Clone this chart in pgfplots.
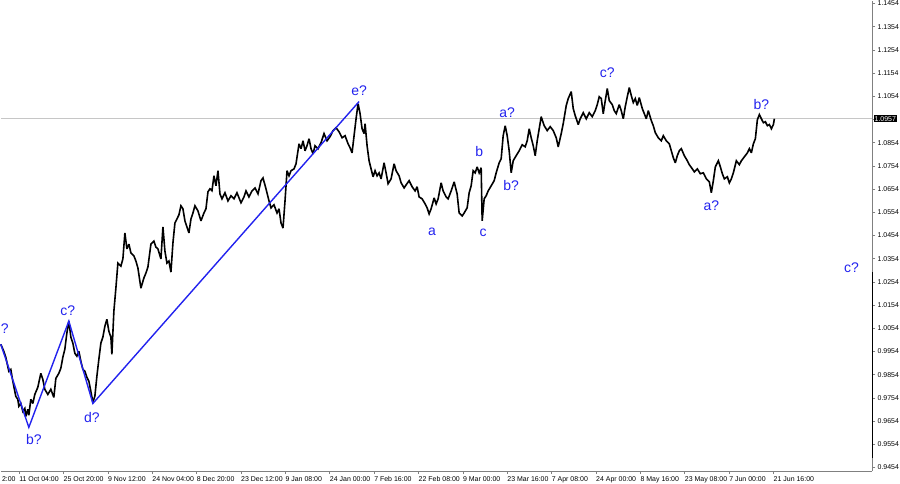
\documentclass[border=0pt]{standalone}
\usepackage{fontspec}
\setmainfont{Liberation Sans}
\usepackage{pgfplots}
\pgfplotsset{compat=1.18}
\definecolor{wave}{HTML}{2222EE}
\definecolor{axgray}{HTML}{808080}

\begin{document}
\begin{tikzpicture}
\begin{axis}[
  scale only axis, width=871bp, height=470bp,
  xmin=0, xmax=871, ymin=0.9439, ymax=1.1466,
  axis x line=bottom, axis y line=right,
  axis line style={-, axgray, line width=0.8bp},
  tick align=outside, major tick length=3bp,
  tick style={axgray, line width=0.6bp},
  xtick={18.3,62.6,107.0,151.3,195.7,240.0,284.3,328.7,373.0,417.4,461.7,506.0,550.4,594.7,639.1,683.4,727.7,772.1},
  xticklabels={11 Oct 04:00, 25 Oct 20:00, 9 Nov 12:00, 24 Nov 04:00, 8 Dec 20:00, 23 Dec 12:00, 9 Jan 08:00, 24 Jan 00:00, 7 Feb 16:00, 22 Feb 08:00, 9 Mar 00:00, 23 Mar 16:00, 7 Apr 08:00, 24 Apr 00:00, 8 May 16:00, 23 May 08:00, 7 Jun 00:00, 21 Jun 16:00},
  ytick={0.9454,0.9554,0.9654,0.9754,0.9854,0.9954,1.0054,1.0154,1.0254,1.0354,1.0454,1.0554,1.0654,1.0754,1.0854,1.0954,1.1054,1.1154,1.1254,1.1354,1.1454},
  yticklabels={0.9454,0.9554,0.9654,0.9754,0.9854,0.9954,1.0054,1.0154,1.0254,1.0354,1.0454,1.0554,1.0654,1.0754,1.0854,,1.1054,1.1154,1.1254,1.1354,1.1454},
  ticklabel style={font=\fontsize{7}{8}\selectfont, inner sep=1bp},
  xticklabel style={anchor=north west, xshift=-1bp, yshift=-1bp},
  yticklabel style={anchor=west, xshift=1bp},
  clip=false,
]
% current price line
\draw[gray!45, line width=0.8bp] (axis cs:0,1.0957) -- (axis cs:871,1.0957);
% darker segment of the price scale
\draw[black, line width=1.6bp] (axis cs:871,1.0295) -- (axis cs:871,0.9496);

% price
\addplot[black, line width=1.6bp, line join=miter, miter limit=3] coordinates {
(0,0.9985)(3,0.9955)(5,0.9929)(8,0.9869)(10,0.9877)(12,0.9826)(15,0.9761)(17,0.9748)
(18,0.9718)(20,0.9730)(22,0.9696)(24,0.9709)(25,0.9674)(27,0.9705)(28,0.9679)(30,0.9748)
(32,0.9730)(34,0.9769)(37,0.9800)(40,0.9860)(42,0.9834)(44,0.9791)(47,0.9769)(50,0.9791)
(53,0.9756)(55,0.9838)(58,0.9860)(60,0.9882)(62,0.9929)(64,0.9964)(66,1.0033)(68,1.0085)
(70,1.0016)(72,0.9990)(74,0.9946)(76,0.9934)(78,0.9955)(80,0.9912)(82,0.9877)(84,0.9869)
(86,0.9843)(88,0.9826)(90,0.9782)(92,0.9735)(94,0.9761)(96,0.9847)(98,0.9921)(100,0.9990)
(102,1.0016)(104,1.0063)(106,1.0093)(108,1.0041)(110,1.0016)(111,0.9942)(113,1.0128)(115,1.0227)
(117,1.0335)(120,1.0322)(122,1.0353)(124,1.0465)(126,1.0396)(128,1.0417)(130,1.0379)(133,1.0366)
(135,1.0344)(137,1.0314)(140,1.0227)(143,1.0271)(145,1.0292)(147,1.0318)(150,1.0417)(153,1.0430)
(155,1.0404)(157,1.0396)(160,1.0353)(162,1.0491)(164,1.0387)(166,1.0335)(168,1.0344)(170,1.0296)
(172,1.0422)(174,1.0508)(176,1.0525)(178,1.0543)(180,1.0582)(182,1.0569)(184,1.0517)(186,1.0491)
(188,1.0465)(190,1.0525)(192,1.0551)(194,1.0582)(197,1.0560)(200,1.0517)(203,1.0551)(205,1.0569)
(207,1.0642)(209,1.0655)(211,1.0647)(213,1.0711)(215,1.0668)(217,1.0733)(219,1.0633)(221,1.0612)
(224,1.0638)(227,1.0603)(230,1.0625)(233,1.0612)(236,1.0638)(240,1.0595)(243,1.0620)(245,1.0646)
(248,1.0620)(251,1.0646)(254,1.0659)(257,1.0633)(260,1.0690)(262,1.0702)(265,1.0655)(268,1.0603)
(270,1.0573)(273,1.0586)(276,1.0551)(278,1.0569)(280,1.0508)(282,1.0486)(284,1.0603)(286,1.0733)
(288,1.0711)(290,1.0733)(293,1.0741)(295,1.0763)(298,1.0849)(300,1.0828)(302,1.0862)(304,1.0819)
(306,1.0841)(308,1.0871)(310,1.0828)(312,1.0806)(314,1.0841)(317,1.0828)(320,1.0854)(323,1.0893)
(326,1.0862)(329,1.0880)(332,1.0906)(335,1.0918)(338,1.0901)(341,1.0875)(344,1.0884)(347,1.0849)
(349,1.0832)(351,1.0810)(353,1.0884)(355,1.0957)(357,1.1022)(359,1.0979)(361,1.0914)(363,1.0893)
(364,1.0936)(366,1.0841)(368,1.0776)(370,1.0741)(372,1.0707)(374,1.0733)(376,1.0711)(378,1.0724)
(380,1.0698)(383,1.0767)(385,1.0724)(387,1.0677)(390,1.0698)(393,1.0763)(395,1.0733)(398,1.0711)
(400,1.0681)(403,1.0659)(405,1.0672)(408,1.0690)(411,1.0664)(414,1.0646)(416,1.0664)(418,1.0620)
(421,1.0612)(424,1.0590)(426,1.0573)(428,1.0547)(430,1.0569)(433,1.0616)(435,1.0590)(437,1.0612)
(440,1.0681)(442,1.0646)(445,1.0620)(447,1.0612)(450,1.0646)(453,1.0685)(456,1.0633)(458,1.0551)
(461,1.0538)(463,1.0551)(466,1.0573)(468,1.0638)(470,1.0668)(472,1.0733)(474,1.0724)(476,1.0750)
(478,1.0724)(480,1.0746)(481,1.0517)(483,1.0612)(485,1.0625)(487,1.0646)(490,1.0668)(493,1.0690)
(495,1.0724)(498,1.0767)(500,1.0785)(502,1.0884)(504,1.0927)(506,1.0884)(508,1.0819)(510,1.0724)
(512,1.0776)(515,1.0798)(518,1.0819)(521,1.0845)(524,1.0836)(526,1.0862)(528,1.0914)(530,1.0875)
(532,1.0841)(534,1.0798)(536,1.0862)(538,1.0914)(540,1.0966)(543,1.0927)(546,1.0906)(549,1.0923)
(552,1.0906)(555,1.0875)(557,1.0836)(560,1.0893)(562,1.0936)(565,1.1014)(567,1.1044)(570,1.1074)
(572,1.1001)(574,1.0970)(577,1.0932)(579,1.0957)(582,1.0983)(585,1.0957)(588,1.0983)(591,1.0966)
(594,1.0992)(596,1.1018)(598,1.1052)(600,1.1044)(602,1.0979)(604,1.1035)(606,1.1087)(608,1.1035)
(611,1.1018)(613,1.0992)(615,1.0979)(618,1.1018)(620,1.0992)(622,1.0957)(624,1.1009)(626,1.1052)
(628,1.1091)(630,1.1057)(632,1.1027)(634,1.1044)(636,1.1014)(638,1.1048)(641,1.1001)(643,1.0979)
(645,1.0957)(647,1.0992)(650,1.0949)(652,1.0927)(654,1.0897)(657,1.0875)(660,1.0862)(662,1.0884)
(665,1.0862)(668,1.0849)(670,1.0819)(672,1.0789)(674,1.0767)(676,1.0798)(678,1.0819)(680,1.0828)
(683,1.0798)(686,1.0776)(688,1.0759)(691,1.0741)(693,1.0728)(696,1.0741)(699,1.0720)(702,1.0724)
(705,1.0698)(708,1.0685)(710,1.0638)(712,1.0690)(714,1.0750)(717,1.0776)(719,1.0750)(721,1.0720)
(723,1.0698)(726,1.0707)(728,1.0681)(730,1.0698)(732,1.0724)(735,1.0776)(738,1.0759)(740,1.0776)
(743,1.0793)(746,1.0810)(748,1.0828)(750,1.0810)(752,1.0849)(754,1.0871)(756,1.0953)(758,1.0975)
(760,1.0957)(762,1.0940)(764,1.0944)(766,1.0927)(768,1.0932)(770,1.0914)(772,1.0932)(773,1.0957)
};

% wave count
\addplot[wave, line width=1.4bp] coordinates {
(0,0.9985)(28,0.9627)(68,1.0085)(92,0.9730)(358,1.1031)
};

\begin{scope}[every node/.style={text=wave, font=\fontsize{14}{16}\selectfont, inner sep=0pt}]
\node at (axis cs:4,1.0054) {?};
\node at (axis cs:33,0.9575) {b?};
\node at (axis cs:67,1.0132) {c?};
\node at (axis cs:91,0.9670) {d?};
\node at (axis cs:358,1.1078) {e?};
\node at (axis cs:431,1.0469) {a};
\node at (axis cs:478,1.0815) {b};
\node at (axis cs:482,1.0465) {c};
\node at (axis cs:506,1.0983) {a?};
\node at (axis cs:510,1.0668) {b?};
\node at (axis cs:606,1.1156) {c?};
\node at (axis cs:710,1.0582) {a?};
\node at (axis cs:760,1.1018) {b?};
\node at (axis cs:850,1.0314) {c?};
\end{scope}

% highlighted last price and clipped first time label
\node[fill=black, text=white, anchor=west, inner sep=1bp, font=\fontsize{7}{8}\selectfont] at (axis cs:872,1.0957) {1.0957};
\node[anchor=north west, inner sep=1bp, font=\fontsize{7}{8}\selectfont, yshift=-4bp] at (axis cs:0,0.9439) {2:00};
\end{axis}
\end{tikzpicture}
\end{document}
